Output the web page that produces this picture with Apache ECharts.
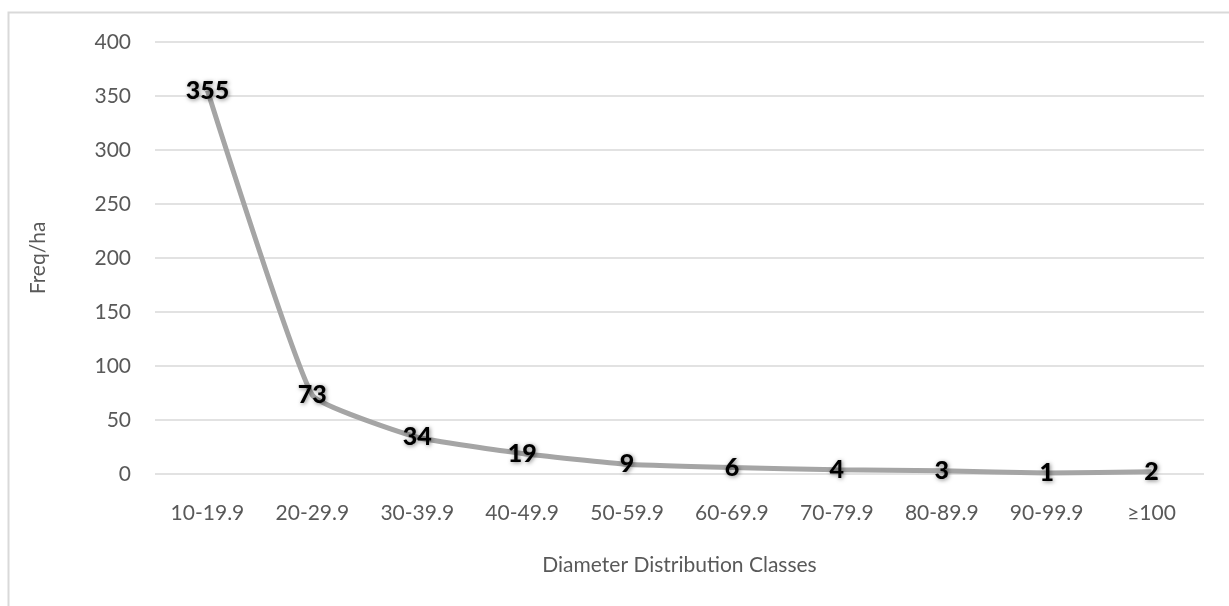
<!DOCTYPE html>
<html>
<head>
<meta charset="utf-8">
<style>
  html, body { margin: 0; padding: 0; background: #ffffff; }
  #chart { width: 1229px; height: 606px; }
</style>
<script src="https://cdn.jsdelivr.net/npm/echarts@6/dist/echarts.min.js"></script>
</head>
<body>
<div id="chart"></div>
<script>
const categories = ['10-19.9', '20-29.9', '30-39.9', '40-49.9', '50-59.9', '60-69.9', '70-79.9', '80-89.9', '90-99.9', '≥100'];
const freqPerHa = [355, 73, 34, 19, 9, 6, 4, 3, 1, 2];
const yTicks = { min: 0, max: 400, interval: 50 };
const xAxisTitle = 'Diameter Distribution Classes';
const yAxisTitle = 'Freq/ha';

const FONT = 'Lato, "Open Sans", sans-serif';
const chart = echarts.init(document.getElementById('chart'), null, { renderer: 'canvas' });
chart.setOption({
  backgroundColor: '#ffffff',
  animation: false,
  graphic: [{
    type: 'rect',
    shape: { x: 8.5, y: 12.5, width: 1300, height: 700 },
    style: { fill: 'none', stroke: '#d9d9d9', lineWidth: 2 },
    silent: true,
    z: -10
  }],
  grid: { left: 155, right: 25, top: 42, bottom: 132, containLabel: false },
  xAxis: {
    type: 'category',
    data: categories,
    boundaryGap: true,
    axisLine: { show: false },
    axisTick: { show: false },
    axisLabel: { color: '#595959', fontFamily: FONT, fontSize: 21, margin: 29 },
    name: xAxisTitle,
    nameLocation: 'middle',
    nameGap: 81,
    nameTextStyle: { color: '#595959', fontFamily: FONT, fontSize: 21 }
  },
  yAxis: {
    type: 'value',
    min: yTicks.min,
    max: yTicks.max,
    interval: yTicks.interval,
    axisLine: { show: false },
    axisTick: { show: false },
    splitLine: { lineStyle: { color: '#d9d9d9', width: 1.5 } },
    axisLabel: { color: '#595959', fontFamily: FONT, fontSize: 21, margin: 24 },
    name: yAxisTitle,
    nameLocation: 'middle',
    nameGap: 106,
    nameRotate: 90,
    nameTextStyle: { color: '#595959', fontFamily: FONT, fontSize: 21 }
  },
  series: [{
    type: 'line',
    data: freqPerHa,
    smooth: 0.12,
    symbol: 'circle',
    symbolSize: 1,
    itemStyle: { color: 'rgba(0,0,0,0)' },
    lineStyle: { color: '#a5a5a5', width: 5 },
    label: {
      show: true,
      position: 'inside',
      color: '#000000',
      fontFamily: FONT,
      fontWeight: 900,
      fontSize: 25,
      textShadowColor: 'rgba(0,0,0,0.5)',
      textShadowBlur: 4,
      textShadowOffsetX: 1,
      textShadowOffsetY: 1
    },
    z: 3
  }]
});
</script>
</body>
</html>
